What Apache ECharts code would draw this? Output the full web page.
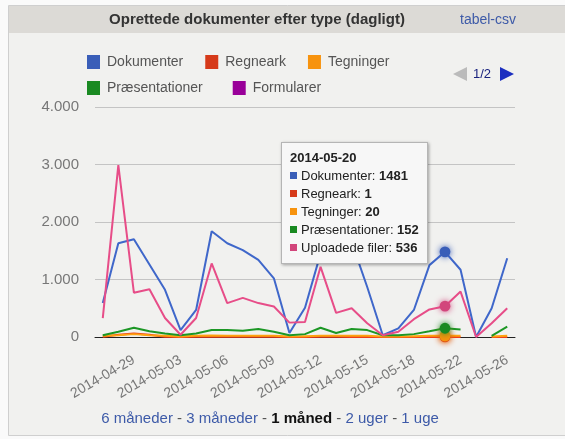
<!DOCTYPE html>
<html>
<head>
<meta charset="utf-8">
<script src="https://cdn.jsdelivr.net/npm/echarts@6/dist/echarts.min.js"></script>
<style>
  html, body { margin: 0; padding: 0; background: #fafafa; }
  #chart { width: 565px; height: 439px; }
</style>
</head>
<body>
<div id="chart"></div>
<script>
  // dage (kategorier) - nogle datoer mangler i kilden
  var dates = ['2014-04-27','2014-04-28','2014-04-29','2014-04-30','2014-05-02','2014-05-03','2014-05-04',
    '2014-05-05','2014-05-06','2014-05-07','2014-05-08','2014-05-09','2014-05-10','2014-05-11','2014-05-12',
    '2014-05-13','2014-05-14','2014-05-15','2014-05-16','2014-05-17','2014-05-18','2014-05-19','2014-05-20',
    '2014-05-22','2014-05-23','2014-05-24','2014-05-26'];
  var dokumenter = [590,1630,1700,1260,820,120,470,1840,1630,1510,1340,1020,70,510,1450,1700,1650,870,30,150,470,1250,1481,1170,0,500,1370];
  var regneark = [5,40,60,40,5,2,3,4,3,3,3,3,1,2,3,3,2,2,1,1,1,1,1,1,null,1,1];
  var tegninger = [20,30,50,30,20,10,20,25,20,20,20,20,10,15,20,20,20,20,10,10,15,20,20,20,null,10,20];
  var praesentationer = [30,90,160,100,60,30,60,120,120,110,140,90,30,50,160,70,140,120,30,30,50,100,152,130,null,20,180];
  var formularer = [null,null,null,null,null,null,null,null,null,null,null,null,null,null,null,null,null,null,null,null,null,null,null,null,null,null,null];
  var uploadede = [330,2990,770,830,330,40,330,1280,590,680,590,530,250,260,1220,420,500,240,30,90,310,480,536,790,0,240,500];
  var yTicks = [0, 1000, 2000, 3000, 4000];
  var rangeLinks = ['6 måneder', '3 måneder', '1 måned', '2 uger', '1 uge'];
  var activeRange = '1 måned';
  var tipIndex = 22;

  var colors = ['#3a5eb8','#d63a1a','#f7930e','#1a8a22','#990099','#d2467c'];

  function fmt(v) {
    return String(v).replace(/\B(?=(\d{3})+(?!\d))/g, '.');
  }

  var myChart = echarts.init(document.getElementById('chart'));

  var font = 'Liberation Sans, Arial, sans-serif';
  var rich = {
    a: { fill: '#3d5aa8', fontSize: 15, fontFamily: font },
    s: { fill: '#555', fontSize: 15, fontFamily: font },
    b: { fill: '#111', fontSize: 15, fontWeight: 'bold', fontFamily: font }
  };
  var linkText = rangeLinks.map(function(r) {
    return (r == activeRange ? '{b|' : '{a|') + r + '}';
  }).join('{s| - }');

  function line(name, data, idx) {
    return {
      name: name,
      type: 'line',
      data: data,
      color: colors[idx],
      showSymbol: false,
      symbol: 'circle',
      symbolSize: 9,
      lineStyle: { width: 2 },
      emphasis: { scale: 1.2, itemStyle: { shadowBlur: 6, shadowColor: colors[idx] }, lineStyle: { width: 2 } }
    };
  }

  var option = {
    animation: false,
    backgroundColor: '#fafafa',
    textStyle: { fontFamily: font },
    graphic: [
      { type: 'rect', shape: { x: 8.5, y: 5.5, width: 560, height: 430 }, style: { fill: '#f1f1ef', stroke: '#cfcfcf' }, z: -10 },
      { type: 'rect', shape: { x: 9, y: 6, width: 560, height: 27 }, style: { fill: '#dcdad6' }, z: -9 },
      { type: 'text', x: 257, y: 20, style: { text: 'Oprettede dokumenter efter type (dagligt)', fontSize: 15, fontWeight: 'bold', fill: '#333', align: 'center', verticalAlign: 'middle', fontFamily: font } },
      { type: 'text', x: 460, y: 20, style: { text: 'tabel-csv', fontSize: 14, fill: '#3d5aa8', verticalAlign: 'middle', fontFamily: font } },
      { type: 'polygon', shape: { points: [[453,74],[467,67],[467,81]] }, style: { fill: '#bbbbbb' } },
      { type: 'text', x: 473, y: 74, style: { text: '1/2', fontSize: 13, fill: '#1a237e', verticalAlign: 'middle', fontFamily: font } },
      { type: 'polygon', shape: { points: [[500,67],[500,81],[514,74]] }, style: { fill: '#1c2fc0' } },
      { type: 'text', x: 270, y: 419, style: { text: linkText, rich: rich, align: 'center', verticalAlign: 'middle', fontFamily: font } }
    ],
    legend: [
      {
        data: ['Dokumenter','Regneark','Tegninger'],
        left: 87, top: 55, padding: 0, itemGap: 22, itemWidth: 13, itemHeight: 14, icon: 'rect',
        textStyle: { fontSize: 14, color: '#555', padding: [0,0,0,2] }
      },
      {
        data: ['Præsentationer','Formularer'],
        left: 87, top: 81, padding: 0, itemGap: 30, itemWidth: 13, itemHeight: 14, icon: 'rect',
        textStyle: { fontSize: 14, color: '#555', padding: [0,0,0,2] }
      }
    ],
    tooltip: {
      trigger: 'axis',
      triggerOn: 'none',
      alwaysShowContent: true,
      transitionDuration: 0,
      position: [281, 142],
      axisPointer: { type: 'none' },
      backgroundColor: '#f7f7f7',
      borderColor: '#b5b5b5',
      borderWidth: 1,
      padding: [6, 8],
      extraCssText: 'border-radius:0;box-shadow:1px 1px 3px rgba(0,0,0,0.35);line-height:18px;',
      textStyle: { fontSize: 13, color: '#222', fontFamily: font },
      formatter: function(params) {
        var s = '<b>' + params[0].name + '</b>';
        params.forEach(function(p) {
          if (p.value == null) return;
          s += '<br/><span style="display:inline-block;width:7px;height:7px;margin:0 4px 1px 0;background:' + p.color + '"></span>' +
            p.seriesName + ': <b>' + p.value + '</b>';
        });
        return s;
      }
    },
    grid: { left: 95, right: 50, top: 107, bottom: 102 },
    xAxis: {
      type: 'category',
      boundaryGap: true,
      data: dates,
      axisLine: { lineStyle: { color: '#222', width: 1 } },
      axisTick: { show: false },
      axisLabel: {
        rotate: 30, fontSize: 14, color: '#777', margin: 22,
        interval: function(i) { return i % 3 == 2; }
      }
    },
    yAxis: {
      type: 'value',
      min: yTicks[0], max: yTicks[yTicks.length - 1], interval: 1000,
      axisLabel: { fontSize: 15, color: '#777', margin: 16, formatter: fmt },
      splitLine: { lineStyle: { color: '#c4c4c4' } }
    },
    series: [
      line('Dokumenter', dokumenter, 0),
      line('Regneark', regneark, 1),
      line('Tegninger', tegninger, 2),
      line('Præsentationer', praesentationer, 3),
      line('Formularer', formularer, 4),
      line('Uploadede filer', uploadede, 5)
    ]
  };
  myChart.setOption(option);
  myChart.dispatchAction({ type: 'showTip', seriesIndex: 0, dataIndex: tipIndex });
</script>
</body>
</html>
